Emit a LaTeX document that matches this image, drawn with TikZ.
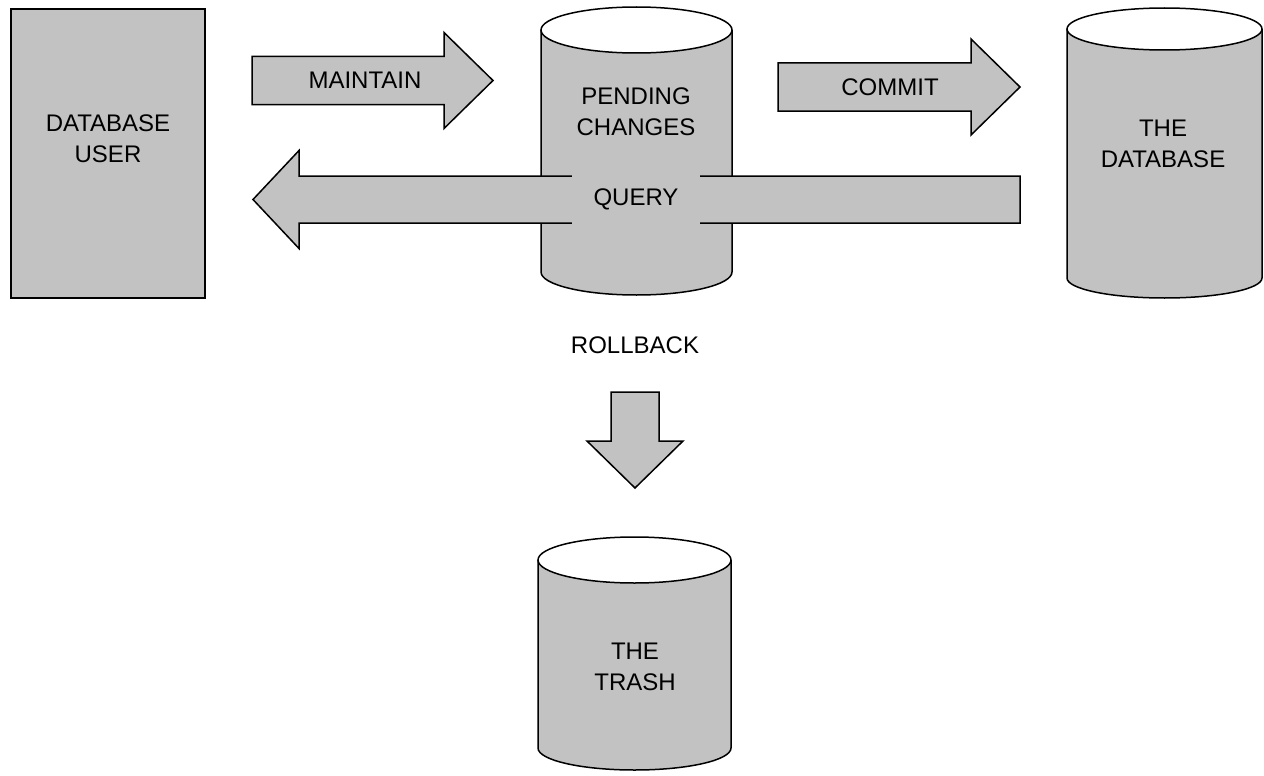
\documentclass[tikz,border=0pt]{standalone}
\usepackage{fontspec}
\setmainfont{Liberation Sans}
\definecolor{ht}{gray}{0.76}
\tikzset{
  outl/.style={draw=black,line width=1.5pt,line join=miter},
  blk/.style={outl,fill=ht},
  lbl/.style={font=\fontsize{24}{31}\selectfont,align=center,inner sep=0pt,text=black}
}
% cylinder: #1 cx, #2 top centre y, #3 bottom centre y, #4 rx, #5 top ry, #6 bottom ry  (y measured downward)
\newcommand{\dbcyl}[6]{%
  \fill[ht] (#1-#4,-#2) -- (#1-#4,-#3) arc[start angle=180,end angle=360,x radius=#4,y radius=#6]
     -- (#1+#4,-#2) arc[start angle=0,end angle=-180,x radius=#4,y radius=#5] -- cycle;
  \fill[white] (#1,-#2) ellipse[x radius=#4,y radius=#5];
  \draw[outl] (#1,-#2) ellipse[x radius=#4,y radius=#5];
  \draw[outl] (#1-#4,-#2) -- (#1-#4,-#3) arc[start angle=180,end angle=360,x radius=#4,y radius=#6] -- (#1+#4,-#2);
}
\begin{document}
\begin{tikzpicture}[x=1pt,y=1pt]
\useasboundingbox (0,0) rectangle (1264,-776);

% database user
\draw[blk] (11,-9) rectangle (205,-298);
\node[lbl] (user) at (108,-139) {DATABASE\\USER};

% cylinders
\dbcyl{636.5}{30}{272}{95.5}{23}{23}
\node[lbl] (pending) at (636,-112) {PENDING\\CHANGES};
\dbcyl{1164.5}{29}{278}{97.5}{21}{20}
\node[lbl] (db) at (1163,-144) {THE\\DATABASE};
\dbcyl{634.5}{560}{748}{96.5}{23}{22}
\node[lbl] (trash) at (635,-667) {THE\\TRASH};

% MAINTAIN arrow
\draw[blk] (252,-56.5) -- (444,-56.5) -- (444,-32.5) -- (493,-80.5) -- (444,-128.5) -- (444,-104.5) -- (252,-104.5) -- cycle;
\node[lbl] (maintain) at (365,-80) {MAINTAIN};

% COMMIT arrow
\draw[blk] (778,-63) -- (971,-63) -- (971,-39) -- (1020,-87) -- (971,-135) -- (971,-111) -- (778,-111) -- cycle;
\node[lbl] (commit) at (890,-87) {COMMIT};

% QUERY arrow
\draw[blk] (1020,-176) -- (299,-176) -- (299,-150.5) -- (253,-199.5) -- (299,-248.5) -- (299,-223) -- (1020,-223) -- cycle;
\node[lbl,fill=ht,minimum width=128pt,minimum height=52pt] (query) at (636,-199.5) {QUERY};

% ROLLBACK
\node[lbl] (rollback) at (635,-345) {ROLLBACK};
\draw[blk] (611,-392) -- (659,-392) -- (659,-441) -- (683,-441) -- (635,-488) -- (587,-441) -- (611,-441) -- cycle;
\end{tikzpicture}
\end{document}
